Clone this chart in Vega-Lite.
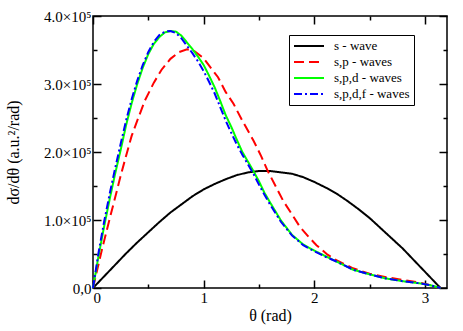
{
  "$schema": "https://vega.github.io/schema/vega-lite/v6.json",
  "autosize": "none",
  "width": 354,
  "height": 272,
  "padding": {"left": 93, "top": 16, "right": 16, "bottom": 43},
  "background": "white",
  "config": {
    "view": {"stroke": "black", "strokeWidth": 1.5},
    "font": "Liberation Serif, DejaVu Serif, serif",
    "axis": {"domain": false, "grid": false, "tickColor": "black", "labelColor": "black", "titleColor": "black", "labelFont": "Liberation Serif, DejaVu Serif, serif", "titleFont": "Liberation Serif, DejaVu Serif, serif", "labelFontSize": 15, "titleFontSize": 16, "titleFontWeight": "normal", "tickWidth": 1.5},
    "legend": {"labelFont": "Liberation Serif, DejaVu Serif, serif"}
  },
  "data": {"values": [
    {"series":"s - wave","t":0,"v":0},{"series":"s - wave","t":0.1,"v":17000},{"series":"s - wave","t":0.2,"v":34000},{"series":"s - wave","t":0.3,"v":51000},{"series":"s - wave","t":0.4,"v":67000},{"series":"s - wave","t":0.5,"v":82000},{"series":"s - wave","t":0.6,"v":97000},{"series":"s - wave","t":0.7,"v":111000},{"series":"s - wave","t":0.8,"v":123000},{"series":"s - wave","t":0.9,"v":135000},{"series":"s - wave","t":1.0,"v":145000},{"series":"s - wave","t":1.1,"v":153000},{"series":"s - wave","t":1.2,"v":160000},{"series":"s - wave","t":1.3,"v":166000},{"series":"s - wave","t":1.4,"v":170000},{"series":"s - wave","t":1.5,"v":172000},{"series":"s - wave","t":1.6,"v":172000},{"series":"s - wave","t":1.7,"v":170000},{"series":"s - wave","t":1.8,"v":168000},{"series":"s - wave","t":1.9,"v":163000},{"series":"s - wave","t":2.0,"v":156000},{"series":"s - wave","t":2.1,"v":148000},{"series":"s - wave","t":2.2,"v":139000},{"series":"s - wave","t":2.3,"v":128000},{"series":"s - wave","t":2.4,"v":116000},{"series":"s - wave","t":2.5,"v":103000},{"series":"s - wave","t":2.6,"v":88000},{"series":"s - wave","t":2.7,"v":73000},{"series":"s - wave","t":2.8,"v":58000},{"series":"s - wave","t":2.9,"v":41000},{"series":"s - wave","t":3.0,"v":24000},{"series":"s - wave","t":3.1,"v":7000},{"series":"s - wave","t":3.1416,"v":0},

    {"series":"s,p - waves","t":0,"v":0},{"series":"s,p - waves","t":0.05,"v":35000},{"series":"s,p - waves","t":0.08,"v":56000},{"series":"s,p - waves","t":0.14,"v":95000},{"series":"s,p - waves","t":0.2,"v":133000},{"series":"s,p - waves","t":0.25,"v":165000},{"series":"s,p - waves","t":0.3,"v":195000},{"series":"s,p - waves","t":0.35,"v":224000},{"series":"s,p - waves","t":0.4,"v":246000},{"series":"s,p - waves","t":0.47,"v":276000},{"series":"s,p - waves","t":0.55,"v":302000},{"series":"s,p - waves","t":0.62,"v":321000},{"series":"s,p - waves","t":0.7,"v":337000},{"series":"s,p - waves","t":0.78,"v":347000},{"series":"s,p - waves","t":0.85,"v":351000},{"series":"s,p - waves","t":0.92,"v":348000},{"series":"s,p - waves","t":1.0,"v":338000},{"series":"s,p - waves","t":1.05,"v":327000},{"series":"s,p - waves","t":1.13,"v":310000},{"series":"s,p - waves","t":1.2,"v":288000},{"series":"s,p - waves","t":1.27,"v":271000},{"series":"s,p - waves","t":1.35,"v":246000},{"series":"s,p - waves","t":1.45,"v":217000},{"series":"s,p - waves","t":1.52,"v":194000},{"series":"s,p - waves","t":1.58,"v":172000},{"series":"s,p - waves","t":1.65,"v":150000},{"series":"s,p - waves","t":1.72,"v":128000},{"series":"s,p - waves","t":1.8,"v":108000},{"series":"s,p - waves","t":1.87,"v":90000},{"series":"s,p - waves","t":1.95,"v":75000},{"series":"s,p - waves","t":2.02,"v":63000},{"series":"s,p - waves","t":2.12,"v":49000},{"series":"s,p - waves","t":2.2,"v":41000},{"series":"s,p - waves","t":2.35,"v":29000},{"series":"s,p - waves","t":2.5,"v":21000},{"series":"s,p - waves","t":2.65,"v":16000},{"series":"s,p - waves","t":2.8,"v":12000},{"series":"s,p - waves","t":2.95,"v":8000},{"series":"s,p - waves","t":3.05,"v":4000},{"series":"s,p - waves","t":3.1416,"v":0},

    {"series":"s,p,d - waves","t":0,"v":0},{"series":"s,p,d - waves","t":0.05,"v":47000},{"series":"s,p,d - waves","t":0.1,"v":90000},{"series":"s,p,d - waves","t":0.15,"v":130000},{"series":"s,p,d - waves","t":0.2,"v":168000},{"series":"s,p,d - waves","t":0.25,"v":203000},{"series":"s,p,d - waves","t":0.3,"v":240000},{"series":"s,p,d - waves","t":0.35,"v":272000},{"series":"s,p,d - waves","t":0.4,"v":300000},{"series":"s,p,d - waves","t":0.45,"v":324000},{"series":"s,p,d - waves","t":0.5,"v":344000},{"series":"s,p,d - waves","t":0.55,"v":359000},{"series":"s,p,d - waves","t":0.6,"v":369000},{"series":"s,p,d - waves","t":0.65,"v":376000},{"series":"s,p,d - waves","t":0.7,"v":378000},{"series":"s,p,d - waves","t":0.75,"v":377000},{"series":"s,p,d - waves","t":0.8,"v":371000},{"series":"s,p,d - waves","t":0.85,"v":361000},{"series":"s,p,d - waves","t":0.9,"v":351000},{"series":"s,p,d - waves","t":0.95,"v":340000},{"series":"s,p,d - waves","t":1.0,"v":328000},{"series":"s,p,d - waves","t":1.05,"v":312000},{"series":"s,p,d - waves","t":1.1,"v":295000},{"series":"s,p,d - waves","t":1.15,"v":275000},{"series":"s,p,d - waves","t":1.2,"v":254000},{"series":"s,p,d - waves","t":1.25,"v":237000},{"series":"s,p,d - waves","t":1.3,"v":218000},{"series":"s,p,d - waves","t":1.35,"v":200000},{"series":"s,p,d - waves","t":1.4,"v":186000},{"series":"s,p,d - waves","t":1.45,"v":172000},{"series":"s,p,d - waves","t":1.5,"v":157000},{"series":"s,p,d - waves","t":1.55,"v":140000},{"series":"s,p,d - waves","t":1.6,"v":126000},{"series":"s,p,d - waves","t":1.7,"v":99000},{"series":"s,p,d - waves","t":1.8,"v":78000},{"series":"s,p,d - waves","t":1.9,"v":64000},{"series":"s,p,d - waves","t":2.0,"v":55000},{"series":"s,p,d - waves","t":2.1,"v":47000},{"series":"s,p,d - waves","t":2.2,"v":39000},{"series":"s,p,d - waves","t":2.35,"v":27000},{"series":"s,p,d - waves","t":2.5,"v":20000},{"series":"s,p,d - waves","t":2.65,"v":14000},{"series":"s,p,d - waves","t":2.8,"v":10000},{"series":"s,p,d - waves","t":2.95,"v":7000},{"series":"s,p,d - waves","t":3.05,"v":4000},{"series":"s,p,d - waves","t":3.1416,"v":0},

    {"series":"s,p,d,f - waves","t":0,"v":0},{"series":"s,p,d,f - waves","t":0.05,"v":52000},{"series":"s,p,d,f - waves","t":0.1,"v":97000},{"series":"s,p,d,f - waves","t":0.15,"v":138000},{"series":"s,p,d,f - waves","t":0.2,"v":176000},{"series":"s,p,d,f - waves","t":0.25,"v":212000},{"series":"s,p,d,f - waves","t":0.3,"v":247000},{"series":"s,p,d,f - waves","t":0.35,"v":278000},{"series":"s,p,d,f - waves","t":0.4,"v":305000},{"series":"s,p,d,f - waves","t":0.45,"v":328000},{"series":"s,p,d,f - waves","t":0.5,"v":347000},{"series":"s,p,d,f - waves","t":0.55,"v":362000},{"series":"s,p,d,f - waves","t":0.6,"v":372000},{"series":"s,p,d,f - waves","t":0.65,"v":377000},{"series":"s,p,d,f - waves","t":0.7,"v":378000},{"series":"s,p,d,f - waves","t":0.75,"v":375000},{"series":"s,p,d,f - waves","t":0.8,"v":367000},{"series":"s,p,d,f - waves","t":0.85,"v":356000},{"series":"s,p,d,f - waves","t":0.9,"v":345000},{"series":"s,p,d,f - waves","t":0.95,"v":333000},{"series":"s,p,d,f - waves","t":1.0,"v":319000},{"series":"s,p,d,f - waves","t":1.05,"v":303000},{"series":"s,p,d,f - waves","t":1.1,"v":286000},{"series":"s,p,d,f - waves","t":1.15,"v":266000},{"series":"s,p,d,f - waves","t":1.2,"v":246000},{"series":"s,p,d,f - waves","t":1.25,"v":228000},{"series":"s,p,d,f - waves","t":1.3,"v":211000},{"series":"s,p,d,f - waves","t":1.35,"v":196000},{"series":"s,p,d,f - waves","t":1.4,"v":182000},{"series":"s,p,d,f - waves","t":1.45,"v":168000},{"series":"s,p,d,f - waves","t":1.5,"v":152000},{"series":"s,p,d,f - waves","t":1.55,"v":137000},{"series":"s,p,d,f - waves","t":1.6,"v":123000},{"series":"s,p,d,f - waves","t":1.7,"v":97000},{"series":"s,p,d,f - waves","t":1.8,"v":77000},{"series":"s,p,d,f - waves","t":1.9,"v":63000},{"series":"s,p,d,f - waves","t":2.0,"v":54000},{"series":"s,p,d,f - waves","t":2.1,"v":46000},{"series":"s,p,d,f - waves","t":2.2,"v":39000},{"series":"s,p,d,f - waves","t":2.35,"v":27000},{"series":"s,p,d,f - waves","t":2.5,"v":20000},{"series":"s,p,d,f - waves","t":2.65,"v":14000},{"series":"s,p,d,f - waves","t":2.8,"v":10000},{"series":"s,p,d,f - waves","t":2.95,"v":7000},{"series":"s,p,d,f - waves","t":3.05,"v":4000},{"series":"s,p,d,f - waves","t":3.1416,"v":0}
  ]},
  "layer": [
    {
      "mark": {"type": "line", "strokeWidth": 2},
      "encoding": {
        "x": {"field": "t", "type": "quantitative", "scale": {"domain": [0, 3.2], "nice": false},
          "axis": {"orient": "bottom", "title": "θ (rad)", "values": [0, 0.5, 1, 1.5, 2, 2.5, 3],
            "labelExpr": "datum.value % 1 === 0 ? format(datum.value, 'd') : ''",
            "tickSize": {"condition": {"test": "datum.value % 1 === 0", "value": -8}, "value": -4},
            "labelPadding": 10, "titlePadding": 2}},
        "y": {"field": "v", "type": "quantitative", "scale": {"domain": [0, 400000], "nice": false},
          "axis": {"orient": "left", "title": "dσ/dθ (a.u.²/rad)", "values": [0, 50000, 100000, 150000, 200000, 250000, 300000, 350000, 400000],
            "labelExpr": "datum.value === 0 ? '0,0' : (datum.value % 100000 === 0 ? format(datum.value/100000, '.1f') + '×10⁵' : '')",
            "tickSize": {"condition": {"test": "datum.value % 100000 === 0", "value": -8}, "value": -4},
            "labelPadding": 10, "titlePadding": 22}},
        "color": {"field": "series", "type": "nominal",
          "scale": {"domain": ["s - wave", "s,p - waves", "s,p,d - waves", "s,p,d,f - waves"], "range": ["#000000", "#ff0000", "#00ff00", "#0000ff"]},
          "legend": {"title": null, "orient": "none", "legendX": 196, "legendY": 19, "fillColor": "white", "strokeColor": "black", "padding": 4,
            "symbolType": "stroke", "symbolSize": 900, "symbolStrokeWidth": 2, "labelFontSize": 13, "labelColor": "black", "rowPadding": 2, "labelOffset": 9, "clipHeight": 14}},
        "strokeDash": {"field": "series", "type": "nominal",
          "scale": {"domain": ["s - wave", "s,p - waves", "s,p,d - waves", "s,p,d,f - waves"], "range": [[1, 0], [10, 5], [1, 0], [8, 3, 2, 3]]},
          "legend": {"title": null, "orient": "none", "legendX": 196, "legendY": 19}}
      }
    },
    {
      "mark": {"type": "line", "opacity": 0},
      "encoding": {
        "x": {"field": "t", "type": "quantitative", "scale": {"domain": [0, 3.2], "nice": false},
          "axis": {"orient": "top", "title": null, "values": [0, 0.5, 1, 1.5, 2, 2.5, 3], "labels": false,
            "tickSize": {"condition": {"test": "datum.value % 1 === 0", "value": -8}, "value": -4}}},
        "y": {"field": "v", "type": "quantitative", "scale": {"domain": [0, 400000], "nice": false},
          "axis": {"orient": "right", "title": null, "values": [0, 50000, 100000, 150000, 200000, 250000, 300000, 350000, 400000], "labels": false,
            "tickSize": {"condition": {"test": "datum.value % 100000 === 0", "value": -8}, "value": -4}}},
        "detail": {"field": "series"}
      }
    }
  ],
  "resolve": {"axis": {"x": "independent", "y": "independent"}}
}
